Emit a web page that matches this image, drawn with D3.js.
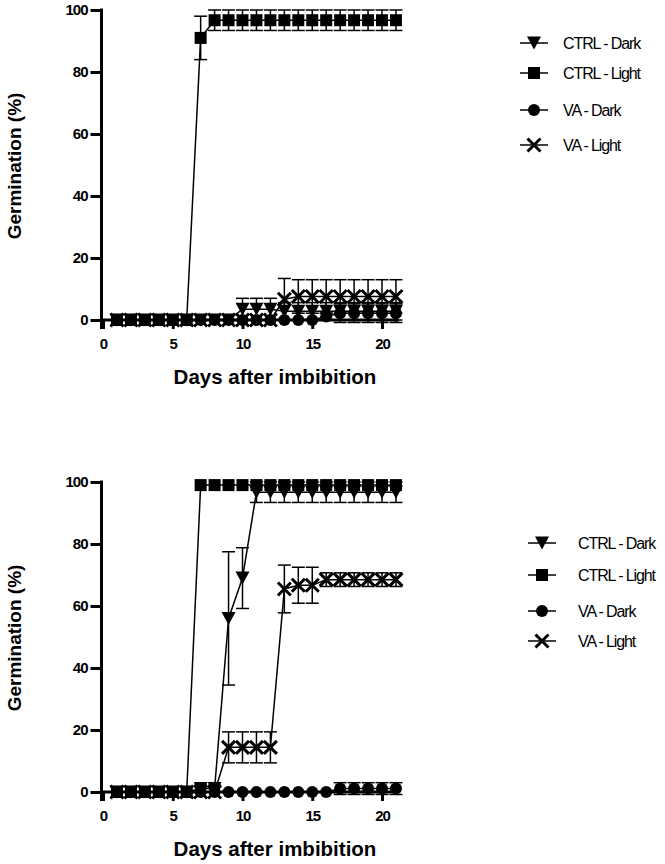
<!DOCTYPE html>
<html>
<head>
<meta charset="utf-8">
<script src="https://cdn.jsdelivr.net/npm/d3@7"></script>
<style>
  body { margin: 0; background: #fff; }
  text { font-family: "Liberation Sans", Arial, sans-serif; }
</style>
</head>
<body>
<script>
// days after imbibition
var days = [1,2,3,4,5,6,7,8,9,10,11,12,13,14,15,16,17,18,19,20,21];
var seriesNames = ["CTRL - Dark", "CTRL - Light", "VA - Dark", "VA - Light"];
var yTicks = [0, 20, 40, 60, 80, 100];
var xTicks = [0, 5, 10, 15, 20];

// top panel
var topCtrlDark     = [0,0,0,0,0,0,0,0,0,3.5,3.5,3.5,2.8,2.8,2.8,2.8,2.8,2.8,2.8,2.8,2.8];
var topCtrlDarkErr  = [0,0,0,0,0,0,0,0,0,3.5,3.5,3.5,2.8,2.8,2.8,2.8,2.8,2.8,2.8,2.8,2.8];
var topCtrlLight    = [0,0,0,0,0,0,91,96.7,96.7,96.7,96.7,96.7,96.7,96.7,96.7,96.7,96.7,96.7,96.7,96.7,96.7];
var topCtrlLightErr = [0,0,0,0,0,0,7,3.3,3.3,3.3,3.3,3.3,3.3,3.3,3.3,3.3,3.3,3.3,3.3,3.3,3.3];
var topVaDark       = [0,0,0,0,0,0,0,0,0,0,0,0,0,0,0,1.1,2.2,2.2,2.2,2.2,2.2];
var topVaDarkErr    = [0,0,0,0,0,0,0,0,0,0,0,0,0,0,0,1.1,3,3,3,3,3];
var topVaLight      = [0,0,0,0,0,0,0,0,0,0,0,0,6.7,7.6,7.6,7.6,7.6,7.6,7.6,7.6,7.6];
var topVaLightErr   = [0,0,0,0,0,0,0,0,0,0,0,0,6.7,5.4,5.4,5.4,5.4,5.4,5.4,5.4,5.4];

// bottom panel
var botCtrlDark     = [0,0,0,0,0,0,1.1,1.1,56,69,96.7,96.7,96.7,96.7,96.7,96.7,96.7,96.7,96.7,96.7,96.7];
var botCtrlDarkErr  = [0,0,0,0,0,0,1.1,1.1,21.5,9.8,3.3,3.3,3.3,3.3,3.3,3.3,3.3,3.3,3.3,3.3,3.3];
var botCtrlLight    = [0,0,0,0,0,0,99,99,99,99,99,99,99,99,99,99,99,99,99,99,99];
var botCtrlLightErr = [0,0,0,0,0,0,0,0,0,0,0,0,0,0,0,0,0,0,0,0,0];
var botVaDark       = [0,0,0,0,0,0,0,0,0,0,0,0,0,0,0,0,1.1,1.1,1.1,1.1,1.1];
var botVaDarkErr    = [0,0,0,0,0,0,0,0,0,0,0,0,0,0,0,0,1.9,1.9,1.9,1.9,1.9];
var botVaLight      = [0,0,0,0,0,0,0,0,14.4,14.4,14.4,14.4,65.5,66.7,66.7,68.5,68.5,68.5,68.5,68.5,68.5];
var botVaLightErr   = [0,0,0,0,0,0,0,0,5,5,5,5,7.7,5.8,5.8,2.2,2.2,2.2,2.2,2.2,2.2];

window.onload = drawAll();

function drawAll(){
    var width = 665, height = 864;

    var svg = d3.select("body")
        .append("svg")
        .attr("width", width)
        .attr("height", height);

    drawPanel(svg, 0,
        [[topCtrlDark, topCtrlDarkErr], [topCtrlLight, topCtrlLightErr],
         [topVaDark, topVaDarkErr], [topVaLight, topVaLightErr]],
        {x: 520, tx: 563, ys: [43, 73, 110, 145]});

    drawPanel(svg, 472,
        [[botCtrlDark, botCtrlDarkErr], [botCtrlLight, botCtrlLightErr],
         [botVaDark, botVaDarkErr], [botVaLight, botVaLightErr]],
        {x: 528, tx: 578, ys: [543, 575, 611, 641]});
}

//one germination panel, offset vertically by dy
function drawPanel(svg, dy, series, legend){
    var x = d3.scaleLinear().domain([0, 20]).range([103, 382]);
    var y = d3.scaleLinear().domain([0, 100]).range([320 + dy, 10 + dy]);

    var g = svg.append("g");

    //lines, error bars and markers per series
    series.forEach(function(s, i){
        var mean = s[0], err = s[1];
        var pts = days.map(function(d, k){ return {d: d, m: mean[k], e: err[k]}; });

        g.append("path")
            .datum(pts)
            .attr("fill", "none")
            .attr("stroke", "#000")
            .attr("stroke-width", 1.5)
            .attr("d", d3.line().x(function(p){ return x(p.d); }).y(function(p){ return y(p.m); }));

        var eb = g.selectAll(".eb" + i + "_" + dy)
            .data(pts.filter(function(p){ return p.e > 0; }))
            .enter()
            .append("g")
            .attr("stroke", "#000")
            .attr("stroke-width", 1.5);
        eb.append("line")
            .attr("x1", function(p){ return x(p.d); }).attr("x2", function(p){ return x(p.d); })
            .attr("y1", function(p){ return y(p.m - p.e); }).attr("y2", function(p){ return y(p.m + p.e); });
        eb.append("line")
            .attr("x1", function(p){ return x(p.d) - 6.5; }).attr("x2", function(p){ return x(p.d) + 6.5; })
            .attr("y1", function(p){ return y(p.m + p.e); }).attr("y2", function(p){ return y(p.m + p.e); });
        eb.append("line")
            .attr("x1", function(p){ return x(p.d) - 6.5; }).attr("x2", function(p){ return x(p.d) + 6.5; })
            .attr("y1", function(p){ return y(p.m - p.e); }).attr("y2", function(p){ return y(p.m - p.e); });

        pts.forEach(function(p){
            drawMarker(g, i, x(p.d), y(p.m));
        });
    });

    //y axis
    var yAxis = d3.axisLeft(y).tickValues(yTicks).tickSize(11).tickPadding(3).tickSizeOuter(0);
    var ya = svg.append("g")
        .attr("transform", "translate(101.5,0)")
        .call(yAxis);
    ya.select(".domain").remove();
    ya.append("line")
        .attr("x1", 0).attr("x2", 0)
        .attr("y1", y(100) - 1.5).attr("y2", y(0) + 9)
        .attr("stroke", "#000").attr("stroke-width", 3);
    ya.selectAll(".tick line").attr("stroke-width", 3);
    ya.selectAll("text")
        .attr("font-size", 15).attr("font-weight", "bold").attr("fill", "#000")
        .attr("letter-spacing", -1);

    //x axis
    var xAxis = d3.axisBottom(x).tickValues(xTicks).tickSize(9).tickPadding(9).tickSizeOuter(0);
    var xa = svg.append("g")
        .attr("transform", "translate(0," + y(0) + ")")
        .call(xAxis);
    xa.select(".domain").remove();
    xa.append("line")
        .attr("x1", 100).attr("x2", x(21) + 3)
        .attr("stroke", "#000").attr("stroke-width", 3);
    xa.selectAll(".tick line").attr("stroke-width", 3);
    xa.selectAll("text")
        .attr("font-size", 15).attr("font-weight", "bold").attr("fill", "#000")
        .attr("letter-spacing", -1);

    //axis titles
    svg.append("text")
        .attr("x", 275).attr("y", 384 + dy)
        .attr("text-anchor", "middle")
        .attr("font-size", 20.5).attr("font-weight", "bold")
        .text("Days after imbibition");
    svg.append("text")
        .attr("transform", "translate(21," + (166 + dy) + ") rotate(-90)")
        .attr("text-anchor", "middle")
        .attr("font-size", 19).attr("font-weight", "bold")
        .text("Germination (%)");

    //legend
    seriesNames.forEach(function(name, i){
        var ly = legend.ys[i];
        svg.append("line")
            .attr("x1", legend.x).attr("x2", legend.x + 28)
            .attr("y1", ly).attr("y2", ly)
            .attr("stroke", "#000").attr("stroke-width", 1.5);
        drawMarker(svg, i, legend.x + 14, ly);
        svg.append("text")
            .attr("x", legend.tx).attr("y", ly + 6)
            .attr("font-size", 16)
            .attr("letter-spacing", -1.1)
            .text(name);
    });
}

function drawMarker(g, kind, cx, cy){
    if (kind === 0){
        g.append("path")
            .attr("d", "M" + (cx - 7) + "," + (cy - 6.5) + "L" + (cx + 7) + "," + (cy - 6.5) + "L" + cx + "," + (cy + 6.5) + "Z")
            .attr("fill", "#000");
    } else if (kind === 1){
        g.append("rect")
            .attr("x", cx - 6).attr("y", cy - 6)
            .attr("width", 12).attr("height", 12)
            .attr("fill", "#000");
    } else if (kind === 2){
        g.append("circle")
            .attr("cx", cx).attr("cy", cy).attr("r", 6)
            .attr("fill", "#000");
    } else {
        g.append("path")
            .attr("d", "M" + (cx - 6.5) + "," + (cy - 6.5) + "L" + (cx + 6.5) + "," + (cy + 6.5) +
                       "M" + (cx - 6.5) + "," + (cy + 6.5) + "L" + (cx + 6.5) + "," + (cy - 6.5))
            .attr("stroke", "#000").attr("stroke-width", 3)
            .attr("fill", "none");
    }
}
</script>
</body>
</html>
